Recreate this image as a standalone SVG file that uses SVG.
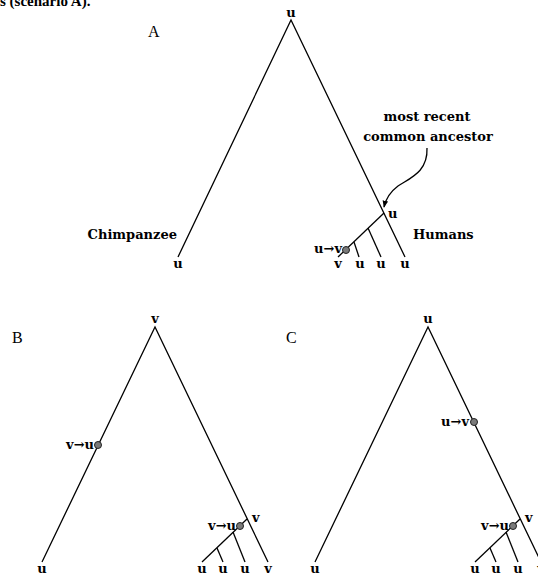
<svg xmlns="http://www.w3.org/2000/svg" width="538" height="576" viewBox="0 0 538 576">
<style>
.ln{stroke:#000;stroke-width:1.3;fill:none}
.lb{font-family:"DejaVu Serif","Liberation Serif",serif;font-weight:bold;font-size:13px;fill:#000}
.pn{font-family:"Liberation Serif","DejaVu Serif",serif;font-size:16px;fill:#000}
.nd{fill:#7a7a7a;stroke:#222;stroke-width:1}
.m{text-anchor:middle}
.e{text-anchor:end}
</style>
<defs>
<marker id="ah" viewBox="0 0 10 10" refX="9" refY="5" markerWidth="7" markerHeight="7" orient="auto" markerUnits="userSpaceOnUse">
<path d="M0,1 L10,5 L0,9 Z" fill="#000"/>
</marker>
</defs>
<text x="0" y="6" style="font-family:'Liberation Serif',serif;font-weight:bold;font-size:15px">s (scenario A).</text>

<g id="treeA">
<text class="pn" x="148" y="37">A</text>
<g id="connectorsA">
<path class="ln" d="M178,257 L291,20 L405,257"/>
<path class="ln" d="M384,213 L338,257"/>
<path class="ln" d="M354,242 L359,257"/>
<path class="ln" d="M368,228 L381,257"/>
<path class="ln" d="M427,148 C428,172 410,178 398,186 C390,192 386,198 384,207" marker-end="url(#ah)"/>
</g>
<g id="nodeA-root"><text class="lb m" x="291" y="17">u</text></g>
<g id="nodeA-chimp"><text class="lb e" x="177" y="239">Chimpanzee</text><text class="lb m" x="178" y="268">u</text></g>
<g id="nodeA-humans"><text class="lb" x="413" y="239">Humans</text></g>
<g id="nodeA-mrca"><text class="lb" x="388" y="218">u</text>
<text class="lb m" x="427" y="121">most recent</text>
<text class="lb m" x="428" y="141">common ancestor</text></g>
<g id="nodeA-mut"><circle class="nd" cx="346" cy="250" r="3.5"/><text class="lb e" x="342" y="253">u→v</text></g>
<g id="nodeA-leaves">
<text class="lb m" x="338" y="268">v</text>
<text class="lb m" x="360" y="268">u</text>
<text class="lb m" x="381" y="268">u</text>
<text class="lb m" x="405" y="268">u</text>
</g>
</g>

<g id="treeB">
<text class="pn" x="12" y="343">B</text>
<g id="connectorsB">
<path class="ln" d="M42,562 L155,327 L268,562"/>
<path class="ln" d="M247,519 L202,562"/>
<path class="ln" d="M233,532 L245,562"/>
<path class="ln" d="M217,548 L223,562"/>
</g>
<g id="nodeB-root"><text class="lb m" x="155" y="323">v</text></g>
<g id="nodeB-mut1"><circle class="nd" cx="98" cy="445" r="3.5"/><text class="lb e" x="94" y="449">v→u</text></g>
<g id="nodeB-mut2"><circle class="nd" cx="240" cy="526" r="3.5"/><text class="lb e" x="236" y="530">v→u</text><text class="lb" x="252" y="522">v</text></g>
<g id="nodeB-leaves">
<text class="lb m" x="42" y="573">u</text>
<text class="lb m" x="202" y="573">u</text>
<text class="lb m" x="223" y="573">u</text>
<text class="lb m" x="245" y="573">u</text>
<text class="lb m" x="268" y="573">v</text>
</g>
</g>

<g id="treeC">
<text class="pn" x="286" y="343">C</text>
<g id="connectorsC">
<path class="ln" d="M315,562 L428,327 L541,562"/>
<path class="ln" d="M520,519 L475,562"/>
<path class="ln" d="M506,532 L518,562"/>
<path class="ln" d="M490,548 L496,562"/>
</g>
<g id="nodeC-root"><text class="lb m" x="428" y="323">u</text></g>
<g id="nodeC-mut1"><circle class="nd" cx="474" cy="422" r="3.5"/><text class="lb e" x="469" y="426">u→v</text></g>
<g id="nodeC-mut2"><circle class="nd" cx="513" cy="526" r="3.5"/><text class="lb e" x="509" y="530">v→u</text><text class="lb" x="525" y="522">v</text></g>
<g id="nodeC-leaves">
<text class="lb m" x="315" y="573">u</text>
<text class="lb m" x="475" y="573">u</text>
<text class="lb m" x="496" y="573">u</text>
<text class="lb m" x="518" y="573">u</text>
<text class="lb m" x="541" y="573">v</text>
</g>
</g>
</svg>
